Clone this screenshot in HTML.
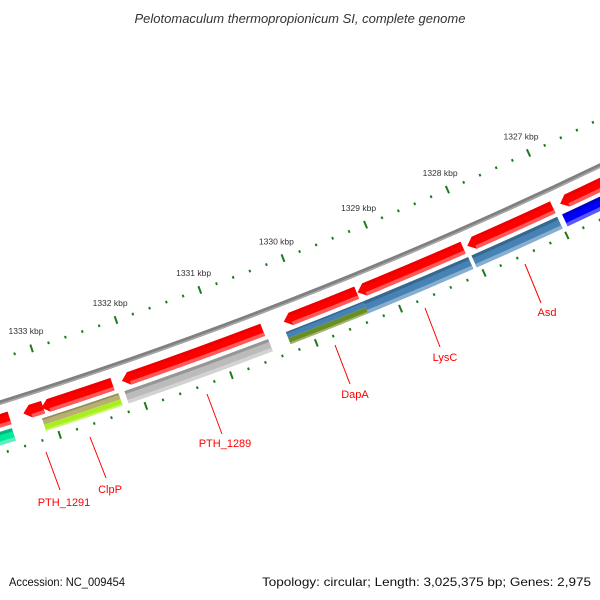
<!DOCTYPE html>
<html>
<head>
<meta charset="utf-8">
<style>
  html,body{margin:0;padding:0;background:#fff;}
  svg{display:block;}
  text{font-family:"Liberation Sans","DejaVu Sans",sans-serif;}
</style>
</head>
<body>
<svg id="map" width="600" height="600" viewBox="0 0 600 600" xmlns="http://www.w3.org/2000/svg">
  <rect x="0" y="0" width="600" height="600" fill="#fff"/>
  <text x="300" y="23" text-anchor="middle" font-size="13" font-style="italic" fill="#333">Pelotomaculum thermopropionicum SI, complete genome</text>
  <g id="rulers"></g>
  <g id="backbone"></g>
  <g id="features"></g>
  <g id="labels">
    <line x1="46" y1="452" x2="60" y2="490" stroke="#f00" stroke-width="1"/>
    <text x="64" y="506" text-anchor="middle" font-size="11" fill="#f00">PTH_1291</text>
    <line x1="90" y1="437" x2="106" y2="478" stroke="#f00" stroke-width="1"/>
    <text x="110" y="493" text-anchor="middle" font-size="11" fill="#f00">ClpP</text>
    <line x1="207" y1="394" x2="222" y2="434" stroke="#f00" stroke-width="1"/>
    <text x="225" y="447" text-anchor="middle" font-size="11" fill="#f00">PTH_1289</text>
    <line x1="335" y1="345" x2="350" y2="384" stroke="#f00" stroke-width="1"/>
    <text x="355" y="398" text-anchor="middle" font-size="11" fill="#f00">DapA</text>
    <line x1="425" y1="308" x2="440" y2="347" stroke="#f00" stroke-width="1"/>
    <text x="445" y="361" text-anchor="middle" font-size="11" fill="#f00">LysC</text>
    <line x1="525" y1="264" x2="541" y2="303" stroke="#f00" stroke-width="1"/>
    <text x="547" y="316" text-anchor="middle" font-size="11" fill="#f00">Asd</text>
  </g>
  <text x="9" y="586" font-size="12" fill="#111" textLength="116" lengthAdjust="spacingAndGlyphs">Accession: NC_009454</text>
  <text x="591" y="586" text-anchor="end" font-size="12" fill="#111" textLength="329" lengthAdjust="spacingAndGlyphs">Topology: circular; Length: 3,025,375 bp; Genes: 2,975</text>
</svg>
<script>
// ---- data (kbp) ----
const featStart = [1333.47, 1333.08, 1332.27, 1330.50, 1329.38, 1328.10, 1327.01, 1325.50,
                   1333.48, 1332.24, 1332.24, 1330.48, 1329.35, 1329.35, 1328.09, 1327.01, 1325.50];
const featEnd   = [1334.50, 1333.31, 1333.10, 1332.16, 1330.25, 1329.37, 1328.05, 1326.92,
                   1334.50, 1333.13, 1333.13, 1332.17, 1330.27, 1330.27, 1329.35, 1328.05, 1326.95];
const featColor = ["#ff0000","#ff0000","#ff0000","#ff0000","#ff0000","#ff0000","#ff0000","#ff0000",
                   "#00e89a","#b8b070","#aaee22","#bbbbbb","#4682b4","#6b8e23","#4682b4","#4682b4","#0000ff"];
const featTrack = ["cds","cds","cds","cds","cds","cds","cds","cds",
                   "cog","cog-top","cog-bottom","cog","cog-top","cog-bottom","cog","cog","cog"];
const featName  = ["gene-offscreen-left","gene-pth-1291","gene-clpp","gene-pth-1289","gene-dapa","gene-lysc","gene-asd","gene-offscreen-right",
                   "cog-offscreen-left","cog-clpp-top","cog-clpp-bottom","cog-pth-1289","cog-dapa-top","cog-dapa-bottom","cog-lysc","cog-asd","cog-offscreen-right"];
const rulerStartKbp = 1325;
const rulerEndKbp = 1335;
const rulerStepKbp = 0.2;
const tickLabelKbp = [1327, 1328, 1329, 1330, 1331, 1332, 1333];

// ---- geometry / axis ----
const CX = -1341, CY = -3871;
const R_BACK = 4479, R_INNER = 4437, R_OUTER = 4528;
const tracks = {"cds":[4490,4503],"cog":[4507,4520],"cog-top":[4507,4513.5],"cog-bottom":[4513.5,4520]};
function ang(kbp){ return (65.08 + (kbp - 1327) * 1.150) * Math.PI / 180; }
function pt(r, a){ return [CX + r*Math.cos(a), CY + r*Math.sin(a)]; }
function P(r,a){ const p=pt(r,a); return p[0].toFixed(2)+" "+p[1].toFixed(2); }
const NS = "http://www.w3.org/2000/svg";
function mk(tag, attrs, parent){
  const e = document.createElementNS(NS, tag);
  for (const k in attrs) e.setAttribute(k, attrs[k]);
  parent.appendChild(e); return e;
}
function arcPath(r, a1, a2){
  return "M"+P(r,a1)+" A"+r+" "+r+" 0 0 1 "+P(r,a2);
}

// rulers
const rg = document.getElementById('rulers');
const nT = Math.round((rulerEndKbp - rulerStartKbp)/rulerStepKbp);
for (let i=0;i<=nT;i++){
  const k = rulerStartKbp + i*rulerStepKbp;
  const a = ang(k);
  const major = Math.abs(k - Math.round(k)) < 1e-6;
  const ri0 = major ? R_INNER-4 : R_INNER-1.3, ri1 = major ? R_INNER+4 : R_INNER+1.3;
  const p0 = pt(ri0,a), p1 = pt(ri1,a);
  const t = mk('line',{x1:p0[0],y1:p0[1],x2:p1[0],y2:p1[1],stroke:"#1e7a1e","stroke-width":2},rg);
  
  
  const ro0 = major ? R_OUTER-4 : R_OUTER-1.3, ro1 = major ? R_OUTER+4 : R_OUTER+1.3;
  const q0 = pt(ro0,a), q1 = pt(ro1,a);
  const t2 = mk('line',{x1:q0[0],y1:q0[1],x2:q1[0],y2:q1[1],stroke:"#1e7a1e","stroke-width":2},rg);
  
  
}
for (let j=0;j<tickLabelKbp.length;j++){
  const k = tickLabelKbp[j];
  const lp = pt(R_INNER-18, ang(k));
  const tx = mk('text',{x:lp[0].toFixed(1),y:(lp[1]+3).toFixed(1),"text-anchor":"middle","font-size":"8.5",fill:"#333"},rg);
  tx.textContent = k + " kbp";
  
  
}

// backbone
const bg = document.getElementById('backbone');
const aL = ang(1336), aR = ang(1324);
const b1 = mk('path',{d:arcPath(R_BACK, aR, aL),stroke:"#808080","stroke-width":4.5,fill:"none"},bg);


const b2 = mk('path',{d:arcPath(R_BACK+1.3, aR, aL),stroke:"#a8a8a8","stroke-width":1.4,fill:"none"},bg);



// features
const fg = document.getElementById('features');
function shade(c, f){
  const n = parseInt(c.slice(1),16);
  let r=(n>>16)&255,g=(n>>8)&255,b=n&255;
  if (f>0){ r+= (255-r)*f; g+=(255-g)*f; b+=(255-b)*f; }
  else { r*=1+f; g*=1+f; b*=1+f; }
  return "rgb("+Math.round(r)+","+Math.round(g)+","+Math.round(b)+")";
}
for (let i=0;i<featStart.length;i++){
  const tr = tracks[featTrack[i]];
  const r0 = tr[0], r1 = tr[1], rm = (r0+r1)/2;
  const a1 = ang(featStart[i]), a2 = ang(featEnd[i]);
  const isArrow = featTrack[i] === "cds";
  const head = isArrow ? 7.5 / rm : 0;
  const ab = a2 - head;
  let d = "M"+P(r0,a1)+" A"+r0+" "+r0+" 0 0 1 "+P(r0,ab);
  if (isArrow) d += " L"+P(rm,a2);
  d += " L"+P(r1,ab)+" A"+r1+" "+r1+" 0 0 0 "+P(r1,a1)+" Z";
  const g = mk('g',{},fg);
  
  
  const body = mk('path',{d:d,fill:featColor[i]},g);
  
  
  const w = r1 - r0;
  const topC = featColor[i]==="#ff0000" ? "#ee0000" : shade(featColor[i], -0.2);
  const botC = shade(featColor[i], 0.35);
  if (featTrack[i] !== "cog-bottom"){
    const hl = mk('path',{d:arcPath(r0+w*0.12, a1+0.3/rm, ab),stroke:topC,"stroke-width":w*0.24,fill:"none"},g);
    
    
  }
  if (featTrack[i] !== "cog-top"){
    const lo = mk('path',{d:arcPath(r1-w*0.14, a1+0.3/rm, ab),stroke:botC,"stroke-width":w*0.28,fill:"none"},g);
    
    
  }
}
</script>
</body>
</html>
